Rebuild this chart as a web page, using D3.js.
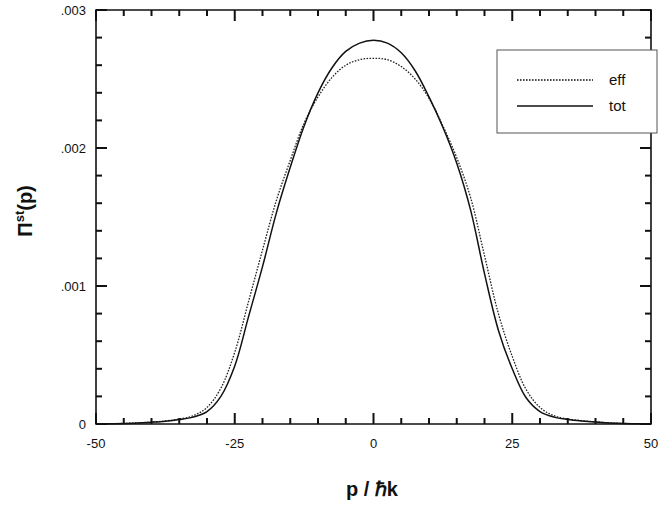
<!DOCTYPE html>
<html lang="en">
<head>
<meta charset="utf-8">
<title>Pi st(p)</title>
<script src="https://d3js.org/d3.v7.min.js"></script>
<style>
  body { margin: 0; background: #fff; }
  text { font-family: "Liberation Sans", Arial, Helvetica, sans-serif; fill: #111; }
</style>
</head>
<body>
<script>
var width = 658, height = 508;

// momentum grid p / hbar k
var pVals = [-50, -47.5, -45, -42.5, -40, -37.5, -35, -32.5, -30, -27.5, -25, -22.5, -20, -17.5, -15, -12.5, -10, -7.5, -5, -2.5,
             0, 2.5, 5, 7.5, 10, 12.5, 15, 17.5, 20, 22.5, 25, 27.5, 30, 32.5, 35, 37.5, 40, 42.5, 45, 47.5, 50];

var totVals = [0, 0.000002, 0.000004, 0.000008, 0.000013, 0.00002, 0.000032, 0.00005, 0.00009, 0.0002,
               0.00042, 0.00078, 0.00114, 0.00153, 0.00186, 0.00216, 0.00240, 0.00258, 0.00270, 0.00276,
               0.00278, 0.00276, 0.00269, 0.00256, 0.00237, 0.00215, 0.00189, 0.00155, 0.00109, 0.00068,
               0.00040, 0.00019, 0.00009, 0.00005, 0.000033, 0.000022, 0.000014, 0.000008, 0.000004, 0.000002, 0];

var effVals = [0, 0.000002, 0.000004, 0.000008, 0.000014, 0.000022, 0.000036, 0.00006, 0.00012, 0.00026,
               0.00052, 0.00089, 0.00126, 0.00162, 0.00191, 0.00218, 0.00237, 0.00251, 0.00260, 0.00264,
               0.00265, 0.00264, 0.00259, 0.00250, 0.00236, 0.00216, 0.00193, 0.00164, 0.00122, 0.00080,
               0.00049, 0.00025, 0.00012, 0.00006, 0.000036, 0.000024, 0.000015, 0.000008, 0.000004, 0.000002, 0];

var xMajor = [-50, -25, 0, 25, 50];
var xMinor = [-45, -40, -35, -30, -20, -15, -10, -5, 5, 10, 15, 20, 30, 35, 40, 45];
var yMajor = [0, 0.001, 0.002, 0.003];
var yMinor = [0.0002, 0.0004, 0.0006, 0.0008, 0.0012, 0.0014, 0.0016, 0.0018, 0.0022, 0.0024, 0.0026, 0.0028];
var yLabels = ["0", ".001", ".002", ".003"];
var seriesNames = ["eff", "tot"];

var m = {left: 96, right: 651, top: 10, bottom: 424};

var x = d3.scaleLinear().domain([-50, 50]).range([m.left, m.right]);
var y = d3.scaleLinear().domain([0, 0.003]).range([m.bottom, m.top]);

var svg = d3.select("body").append("svg")
    .attr("width", width)
    .attr("height", height);

// frame
svg.append("path")
    .attr("d", "M" + m.left + "," + m.top + "H" + m.right + "V" + m.bottom + "H" + m.left + "Z")
    .style("fill", "none")
    .style("stroke", "#111")
    .style("stroke-width", "1.6px");

// tick labels
svg.selectAll(".xl").data(xMajor).enter().append("text")
    .attr("x", function(d) { return x(d); })
    .attr("y", 448)
    .attr("text-anchor", "middle")
    .style("font-size", "13px")
    .text(function(d) { return d; });

svg.selectAll(".yl").data(yMajor).enter().append("text")
    .attr("x", 86)
    .attr("y", function(d) { return y(d) + 5; })
    .attr("text-anchor", "end")
    .style("font-size", "13px")
    .text(function(d, i) { return yLabels[i]; });

// curves
var line = d3.line()
    .x(function(d) { return x(d[0]); })
    .y(function(d) { return y(d[1]); })
    .curve(d3.curveCatmullRom.alpha(0.5));

var effData = pVals.map(function(p, i) { return [p, effVals[i]]; });
var totData = pVals.map(function(p, i) { return [p, totVals[i]]; });

svg.append("path").datum(effData)
    .attr("d", line)
    .attr("fill", "none").attr("stroke", "#222")
    .attr("stroke-width", 1.3)
    .attr("stroke-dasharray", "1.6,1.4");

svg.append("path").datum(totData)
    .attr("d", line)
    .attr("fill", "none").attr("stroke", "#111")
    .attr("stroke-width", 1.5);

// inward ticks on all four sides as small filled rects
var tickW = 2;
var xt = xMajor.map(function(v) { return {v: v, len: 11}; })
    .concat(xMinor.map(function(v) { return {v: v, len: 6}; }));
var yt2 = yMajor.map(function(v) { return {v: v, len: 11}; })
    .concat(yMinor.map(function(v) { return {v: v, len: 6}; }));

var tg = svg.append("g").attr("class", "tickmarks");
tg.selectAll(".xb").data(xt).enter().append("rect")
    .attr("x", function(d) { return x(d.v) - tickW / 2; })
    .attr("y", function(d) { return m.bottom - d.len; })
    .attr("width", tickW).attr("height", function(d) { return d.len; })
    .attr("fill", "#111");
tg.selectAll(".xt").data(xt).enter().append("rect")
    .attr("x", function(d) { return x(d.v) - tickW / 2; })
    .attr("y", m.top)
    .attr("width", tickW).attr("height", function(d) { return d.len; })
    .attr("fill", "#111");
tg.selectAll(".yl2").data(yt2).enter().append("rect")
    .attr("x", m.left)
    .attr("y", function(d) { return y(d.v) - tickW / 2; })
    .attr("width", function(d) { return d.len; }).attr("height", tickW)
    .attr("fill", "#111");
tg.selectAll(".yr").data(yt2).enter().append("rect")
    .attr("x", function(d) { return m.right - d.len; })
    .attr("y", function(d) { return y(d.v) - tickW / 2; })
    .attr("width", function(d) { return d.len; }).attr("height", tickW)
    .attr("fill", "#111");

// legend
var lg = svg.append("g");
lg.append("rect")
    .attr("x", 497).attr("y", 50).attr("width", 160).attr("height", 83)
    .attr("fill", "#fff").attr("stroke", "#555").attr("stroke-width", 1);

seriesNames.forEach(function(s, i) {
  var ly = 80 + i * 26;
  lg.append("line")
      .attr("x1", 517).attr("x2", 593).attr("y1", ly).attr("y2", ly)
      .attr("stroke", "#111")
      .attr("stroke-width", s == "eff" ? 1.3 : 1.4)
      .attr("stroke-dasharray", s == "eff" ? "1.6,1.4" : null);
  lg.append("text")
      .attr("x", 609).attr("y", ly + 5)
      .style("font-size", "15px")
      .text(s);
});

// axis titles
svg.append("text")
    .attr("x", 372).attr("y", 496)
    .attr("text-anchor", "middle")
    .style("font-size", "20px")
    .style("font-weight", "bold")
    .text("p / \u210Fk");

var yt = svg.append("text")
    .attr("transform", "translate(32,211) rotate(-90)")
    .attr("text-anchor", "middle")
    .style("font-size", "20px")
    .style("font-weight", "bold");
yt.append("tspan").text("\u03A0");
yt.append("tspan").attr("dy", -8).style("font-size", "13px").text("st");
yt.append("tspan").attr("dy", 8).text("(p)");
</script>
</body>
</html>
